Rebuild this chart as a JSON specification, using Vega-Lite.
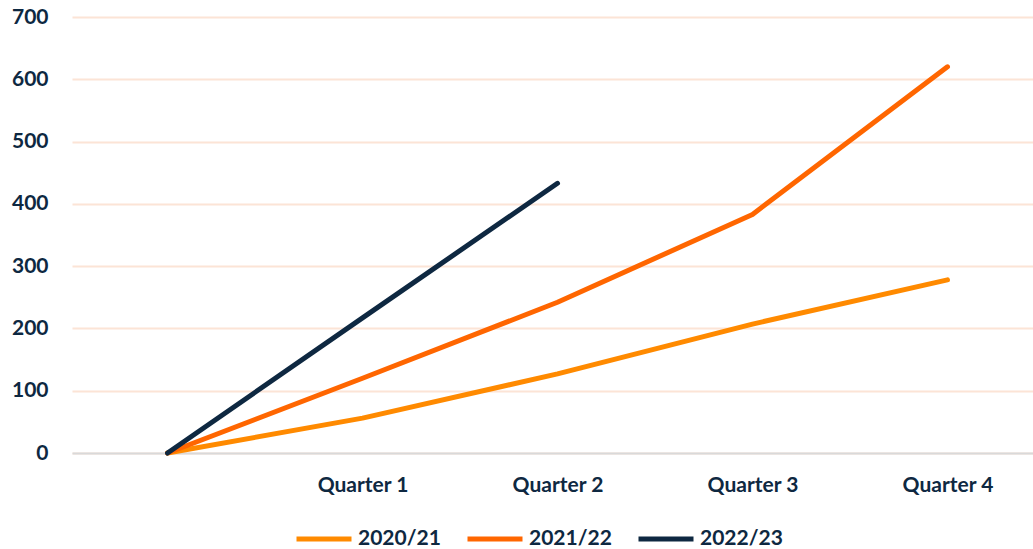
{
  "$schema": "https://vega.github.io/schema/vega-lite/v6.json",
  "autosize": "none",
  "width": 971,
  "height": 436,
  "padding": {"left": 72, "top": 17, "right": 0, "bottom": 96},
  "background": "white",
  "config": {
    "view": {"stroke": null},
    "font": "Lato"
  },
  "data": {
    "values": [
      {"q": "start", "series": "2020/21", "v": 0},
      {"q": "Quarter 1", "series": "2020/21", "v": 56},
      {"q": "Quarter 2", "series": "2020/21", "v": 127},
      {"q": "Quarter 3", "series": "2020/21", "v": 207},
      {"q": "Quarter 4", "series": "2020/21", "v": 278},
      {"q": "start", "series": "2021/22", "v": 0},
      {"q": "Quarter 1", "series": "2021/22", "v": 120},
      {"q": "Quarter 2", "series": "2021/22", "v": 242},
      {"q": "Quarter 3", "series": "2021/22", "v": 383},
      {"q": "Quarter 4", "series": "2021/22", "v": 620},
      {"q": "start", "series": "2022/23", "v": 0},
      {"q": "Quarter 1", "series": "2022/23", "v": 217},
      {"q": "Quarter 2", "series": "2022/23", "v": 433}
    ]
  },
  "mark": {"type": "line", "strokeWidth": 5, "strokeCap": "round", "strokeJoin": "round"},
  "encoding": {
    "x": {
      "field": "q",
      "type": "ordinal",
      "sort": ["start", "Quarter 1", "Quarter 2", "Quarter 3", "Quarter 4"],
      "scale": {"type": "point", "padding": 0.49},
      "axis": {
        "title": null,
        "labelAngle": 0,
        "labelExpr": "datum.value == 'start' ? '' : datum.value",
        "labelFont": "Lato",
        "labelFontWeight": "bold",
        "labelFontSize": 21,
        "labelColor": "#0E2841",
        "labelPadding": 21,
        "ticks": false,
        "domainColor": "#D9D9D9",
        "domainWidth": 2,
        "grid": false
      }
    },
    "y": {
      "field": "v",
      "type": "quantitative",
      "scale": {"domain": [0, 700], "nice": false},
      "axis": {
        "title": null,
        "values": [0, 100, 200, 300, 400, 500, 600, 700],
        "labelFont": "Lato",
        "labelFontWeight": "bold",
        "labelFontSize": 21,
        "labelColor": "#0E2841",
        "labelPadding": 24,
        "ticks": false,
        "domain": false,
        "grid": true,
        "gridColor": "#FCE4D6",
        "gridWidth": 2
      }
    },
    "color": {
      "field": "series",
      "type": "nominal",
      "scale": {"domain": ["2020/21", "2021/22", "2022/23"], "range": ["#FF8A00", "#FF6600", "#0E2841"]},
      "legend": {
        "title": null,
        "orient": "none",
        "direction": "horizontal",
        "legendX": 222,
        "legendY": 492,
        "symbolType": "stroke",
        "symbolSize": 3025,
        "symbolStrokeWidth": 5,
        "labelFont": "Lato",
        "labelFontWeight": "bold",
        "labelFontSize": 21,
        "labelColor": "#0E2841",
        "labelOffset": 4,
        "columnPadding": 16
      }
    }
  }
}
